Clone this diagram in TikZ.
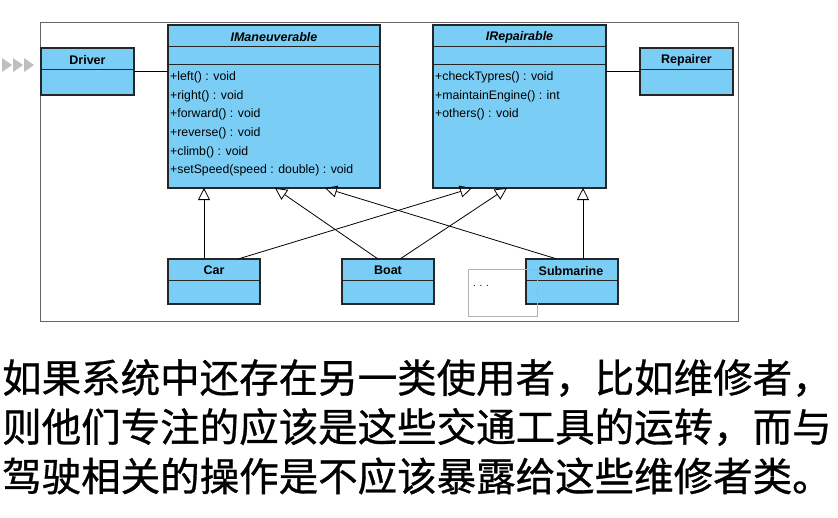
\documentclass[tikz,border=0pt]{standalone}
\usepackage{fontspec}
\setmainfont{Liberation Sans}
\newfontfamily\cjk[FakeBold=0.8]{Noto Sans CJK SC}
\usetikzlibrary{arrows.meta}
\definecolor{umlblue}{RGB}{122,206,245}
\begin{document}
\begin{tikzpicture}[x=1pt,y=-1pt,
  box/.style={draw=black!85,line width=1.1pt,fill=umlblue},
  div/.style={draw=black!85,line width=0.9pt},
  gen/.style={-{Triangle[open,length=12pt,width=12pt]},fill=white,line width=0.8pt},
  assoc/.style={line width=0.8pt},
  ttl/.style={font=\fontsize{12.5}{14}\selectfont\bfseries,anchor=center},
  mth/.style={font=\fontsize{12.3}{14}\selectfont,anchor=west,inner sep=0pt},
  cn/.style={font=\cjk\fontsize{39.5}{44}\selectfont,anchor=west,inner sep=0pt}]
\useasboundingbox (0,0) rectangle (838,517);
\fill[white] (0,0) rectangle (838,517);
% decorative gray arrows
\foreach \i in {0,1,2}{\fill[black!25] (2+\i*11,58) -- (12+\i*11,65) -- (2+\i*11,72) -- cycle;}
\draw[black!60,line width=0.8pt] (40,22) rectangle (738,321);
% Driver
\draw[box] (41,48) rectangle (134,95); \draw[div] (41,69)--(134,69);
\node[ttl] (driver) at (87.5,60) {Driver};
\coordinate (drR) at (134,71);
% Repairer
\draw[box] (640,48) rectangle (733,95); \draw[div] (640,69)--(733,69);
\node[ttl] (repairer) at (686.5,60) {Repairer};
\coordinate (reL) at (640,71);
% IManeuverable
\draw[box] (168,25) rectangle (380,188); \draw[div] (168,46)--(380,46); \draw[div] (168,64)--(380,64);
\node[ttl,font=\fontsize{12.5}{14}\selectfont\bfseries\itshape] (im) at (274,37) {IManeuverable};
\coordinate (imL) at (168,71);
\node[mth] (m1) at (170,77) {+left() : void};
\node[mth] (m2) at (170,96) {+right() : void};
\node[mth] (m3) at (170,114) {+forward() : void};
\node[mth] (m4) at (170,133) {+reverse() : void};
\node[mth] (m5) at (170,152) {+climb() : void};
\node[mth] (m6) at (170,170) {+setSpeed(speed : double) : void};
% IRepairable
\draw[box] (433,25) rectangle (606,188); \draw[div] (433,46)--(606,46); \draw[div] (433,64)--(606,64);
\node[ttl,font=\fontsize{12.5}{14}\selectfont\bfseries\itshape] (ir) at (519.5,37) {IRepairable};
\coordinate (irR) at (606,71);
\node[mth] (r1) at (435,77) {+checkTypres() : void};
\node[mth] (r2) at (435,96) {+maintainEngine() : int};
\node[mth] (r3) at (435,114) {+others() : void};
% subclasses
\draw[box] (168,259) rectangle (260,304); \draw[div] (168,280)--(260,280);
\node[ttl] (car) at (214,270) {Car};
\draw[box] (342,259) rectangle (434,304); \draw[div] (342,280)--(434,280);
\node[ttl] (boat) at (388,270) {Boat};
\draw[box] (526,259) rectangle (618,304); \draw[div] (526,280)--(618,280);
\node[ttl] (sub) at (571,271) {Submarine};
\draw[black!30,line width=0.6pt] (468,269) rectangle (537,316);
\node[font=\fontsize{10}{11}\selectfont] (dots) at (481,286) {. . .};
% associations
\draw[assoc] (drR) -- (imL);
\draw[assoc] (irR) -- (reL);
% generalizations
\coordinate (c1) at (204,259); \coordinate (t1) at (204,188);
\coordinate (c2) at (238,259); \coordinate (t2) at (472,188);
\coordinate (b1) at (378,259); \coordinate (t3) at (275,188);
\coordinate (b2) at (400,259); \coordinate (t4) at (507,188);
\coordinate (s1) at (557,259); \coordinate (t5) at (325,188);
\coordinate (s2) at (583,259); \coordinate (t6) at (583,188);
\draw[gen] (c1)--(t1); \draw[gen] (c2)--(t2);
\draw[gen] (b1)--(t3); \draw[gen] (b2)--(t4);
\draw[gen] (s1)--(t5); \draw[gen] (s2)--(t6);
% Chinese text
\node[cn] (l1) at (2,378) {如果系统中还存在另一类使用者，比如维修者，};
\node[cn] (l2) at (2,427) {则他们专注的应该是这些交通工具的运转，而与};
\node[cn] (l3) at (2,476) {驾驶相关的操作是不应该暴露给这些维修者类。};
\end{tikzpicture}
\end{document}
